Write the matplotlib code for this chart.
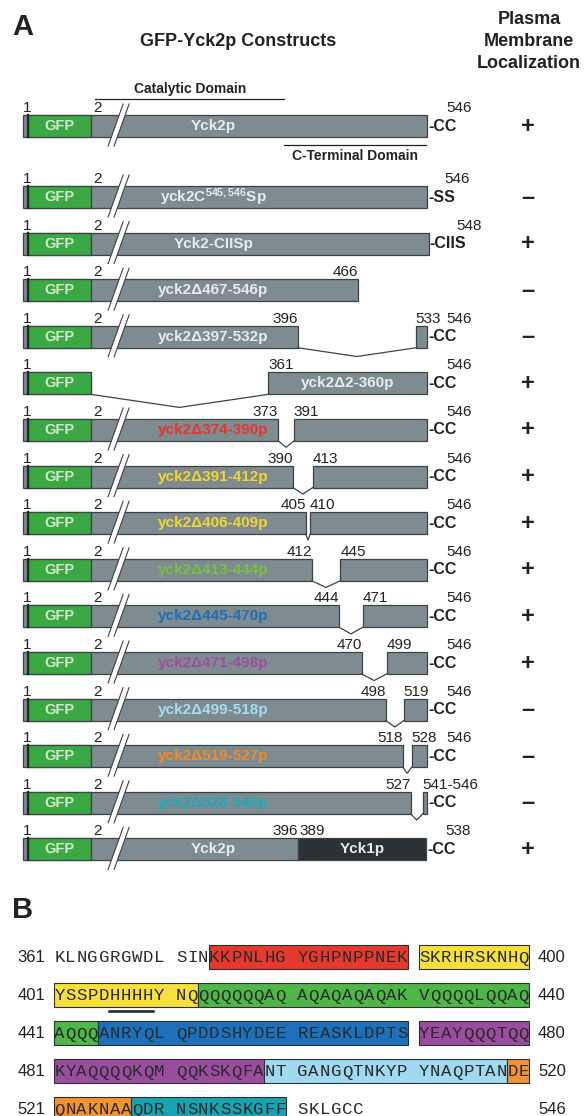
import numpy as np
import matplotlib
matplotlib.use("Agg")
import matplotlib.pyplot as plt
import matplotlib.transforms as mtransforms
from matplotlib.patches import Polygon, Rectangle

plt.rcParams['font.family'] = ['Liberation Sans', 'DejaVu Sans']
plt.rcParams['mathtext.fontset'] = 'custom'
plt.rcParams['mathtext.rm'] = 'Liberation Sans:bold'
plt.rcParams['mathtext.it'] = 'Liberation Sans:bold'
plt.rcParams['mathtext.bf'] = 'Liberation Sans:bold'

# ------------------------------------------------------------------ data
YCK2_LEN = 546
construct_names = ["Yck2p", r"yck2C$^{545,546}$Sp", "Yck2-CIISp", "yck2Δ467-546p",
                   "yck2Δ397-532p", "yck2Δ2-360p", "yck2Δ374-390p", "yck2Δ391-412p",
                   "yck2Δ406-409p", "yck2Δ413-444p", "yck2Δ445-470p", "yck2Δ471-498p",
                   "yck2Δ499-518p", "yck2Δ519-527p", "yck2Δ528-540p", "Yck2p"]
del_start = [0, 0, 0, 467, 397, 2, 374, 391, 406, 413, 445, 471, 499, 519, 528, 0]
del_end = [0, 0, 0, 546, 532, 360, 390, 412, 409, 444, 470, 498, 518, 527, 540, 0]
last_residue = [546, 546, 548, 466, 546, 546, 546, 546, 546, 546, 546, 546, 546, 546, 546, 538]
c_terminus = ["-CC", "-SS", "-CIIS", "", "-CC", "-CC", "-CC", "-CC", "-CC", "-CC",
              "-CC", "-CC", "-CC", "-CC", "-CC", "-CC"]
localization = ["+", "–", "+", "–", "–", "+", "+", "+", "+", "+", "+", "+", "–", "–", "–", "+"]
label_colors = ["#e6ecee", "#e6ecee", "#e6ecee", "#e6ecee", "#e6ecee", "#e6ecee",
                "#e8352b", "#f3d530", "#f3d530", "#78c043", "#1f6fb8", "#9b4fa0",
                "#a6ddf3", "#f08c26", "#1aaabb", "#e6ecee"]
# chimera (last row): Yck2p 2-396 fused to Yck1p 389-538
chimera_yck2 = (2, 396)
chimera_yck1 = (389, 538)
catalytic_domain = (10, 380)
c_terminal_domain = (380, 545)

# panel B: Yck2p residues 361-546
seq_row_start = [361, 401, 441, 481, 521]
seq_rows = ["KLNGGRGWDLSINKKPNLHGYGHPNPPNEKSKRHRSKNHQ",
            "YSSPDHHHHYNQQQQQQQAQAQAQAQAQAKVQQQQLQQAQ",
            "AQQQANRYQLQPDDSHYDEEREASKLDPTSYEAYQQQTQQ",
            "KYAQQQQKQMQQKSKQFANTGANGQTNKYPYNAQPTANDE",
            "QNAKNAAQDRNSNKSSKGFFSKLGCC"]
region_start = [374, 391, 413, 445, 471, 499, 519, 528]
region_end = [390, 412, 444, 470, 498, 518, 527, 540]
region_colors = ["#e5392d", "#f7df3c", "#4fb748", "#1d70bc", "#9a4d9f", "#9fd9f2",
                 "#f29331", "#17a3b1"]
underline_res = (406, 409)

# ------------------------------------------------------------------ style
W, H = 584, 1116
GREY = "#7e8b91"
EDGE = "#3b4347"
GFP_GREEN = "#3aa843"
YCK1_DARK = "#2b3134"
TXT = "#222222"

fig = plt.figure(figsize=(W / 100, H / 100), dpi=100)
fig.patch.set_facecolor("white")

A_BOTTOM = 880
axA = fig.add_axes([0, 1 - A_BOTTOM / H, 1, A_BOTTOM / H])
axA.set_axis_off()

# diagram scale (not to scale: N-terminal region compressed behind a break)
RK = np.array([1.0, 2.0, 361.0, 546.0])
PK = np.array([23.0, 91.0, 268.0, 427.0])
s_lo = (PK[1] - PK[0]) / (RK[1] - RK[0])
s_hi = (PK[-1] - PK[-2]) / (RK[-1] - RK[-2])


def fwd(r):
    r = np.asarray(r, float)
    return np.where(r < RK[0], PK[0] + (r - RK[0]) * s_lo,
                    np.where(r > RK[-1], PK[-1] + (r - RK[-1]) * s_hi, np.interp(r, RK, PK)))


def inv(p):
    p = np.asarray(p, float)
    return np.where(p < PK[0], RK[0] + (p - PK[0]) / s_lo,
                    np.where(p > PK[-1], RK[-1] + (p - PK[-1]) / s_hi, np.interp(p, PK, RK)))


axA.set_xscale('function', functions=(fwd, inv))
PITCH = 46.6
P = 1.0 / PITCH  # one pixel in row units
n = len(construct_names)
row_y = np.arange(n, dtype=float)
row_y[0] -= 71.0 / PITCH - 1.0
BAR_H = 22 * P
PT = 0.72  # points per pixel


def bar(y, a, b, color):
    axA.barh(y, b - a, left=a, height=BAR_H, color=color, edgecolor=EDGE, linewidth=0.9, zorder=2)


def mid(a, b):
    return float(inv((fwd(a) + fwd(b)) / 2))


def num(txt, x, y, ha, dx=0):
    axA.annotate(txt, xy=(x, y - 18 * P), xytext=(dx * PT, 0), textcoords='offset points',
                 ha=ha, va='center', fontsize=11, color=TXT)


def notch(y, a, b, depth_px):
    yb = y + BAR_H / 2
    axA.plot([a, mid(a, b), b], [yb, yb + depth_px * P, yb], color=EDGE, lw=0.9, zorder=3,
             solid_joinstyle='miter')


BREAK_RES = 57
blend = mtransforms.blended_transform_factory(axA.transAxes, axA.transData)

axA.set_xlim(float(inv(0)), float(inv(W)))
axA.set_ylim(1 + (A_BOTTOM - 197) * P, 1 - 197 * P)

for i in range(n):
    y = row_y[i]
    ds, de, last = del_start[i], del_end[i], last_residue[i]
    # GFP block
    bar(y, 1, 2, GREY)
    axA.barh(y, 2 - 1.08, left=1.08, height=BAR_H, color=GFP_GREEN, edgecolor=EDGE, linewidth=0.9, zorder=2)
    axA.plot([1.08, 1.08], [y - BAR_H / 2, y + BAR_H / 2], color="#20262a", lw=1.6, zorder=3)
    axA.text(mid(1.08, 2), y, "GFP", ha='center', va='center', fontsize=10.5,
             fontweight='bold', color="#d6e8cf", zorder=4)
    num("1", 1, y, 'left')
    if i == n - 1:  # chimera
        a, b = chimera_yck2
        bar(y, a, b, GREY)
        yck1_end = b + (chimera_yck1[1] - chimera_yck1[0])
        bar(y, b, yck1_end, YCK1_DARK)
        axA.text(250, y, "Yck2p", ha='center', va='center', fontsize=11, fontweight='bold', color=label_colors[i], zorder=4)
        axA.text(mid(b, yck1_end), y, "Yck1p", ha='center', va='center', fontsize=11, fontweight='bold', color="#e6ecee", zorder=4)
        num("2", 2, y, 'left', 2)
        num(str(chimera_yck2[1]), b, y, 'right')
        num(str(chimera_yck1[0]), b, y, 'left', 1)
        end_x = yck1_end
        segs = [(a, b)]
        end_lbl = str(chimera_yck1[1])
    else:
        if ds == 0:
            segs = [(2, last)]
        elif de >= YCK2_LEN:
            segs = [(2, ds - 1)]
        elif ds == 2:
            segs = [(de + 1, last)]
        else:
            segs = [(2, ds - 1), (de + 1, last)]
        for a, b in segs:
            bar(y, a, b, GREY)
        end_x = segs[-1][1]
        end_lbl = str(last)
        if ds == 2:
            notch(y, 2, de + 1, 13)
            num(str(de + 1), de + 1, y, 'left')
            lx = mid(de + 1, last)
        else:
            num("2", 2, y, 'left', 2)
            lx = 250
            if de >= YCK2_LEN:
                num(str(ds - 1), ds - 1, y, 'right')
                end_lbl = ""
            elif ds > 0:
                notch(y, ds - 1, de + 1, 6 + 0.02 * (de - ds))
                num(str(ds - 1), ds - 1, y, 'right')
                if last - (de + 1) < 10:
                    num(f"{de + 1}-{last}", de + 1, y, 'left')
                    end_lbl = ""
                else:
                    num(str(de + 1), de + 1, y, 'left')
        axA.text(lx, y, construct_names[i], ha='center', va='center', fontsize=11,
                 fontweight='bold', color=label_colors[i], zorder=4)
    # break marks
    if segs[0][0] == 2:
        cx, cy = axA.transData.transform((BREAK_RES, y))
        L1 = [(cx - 10, cy - 20), (cx + 5, cy + 22)]
        L2 = [(cx - 4, cy - 20), (cx + 11, cy + 22)]
        poly = Polygon([L1[0], L1[1], L2[1], L2[0]], closed=True, facecolor='white',
                       edgecolor='none', transform=mtransforms.IdentityTransform(), zorder=5)
        fig.add_artist(poly)
        for L in (L1, L2):
            fig.add_artist(plt.Line2D([L[0][0], L[1][0]], [L[0][1], L[1][1]], color="#404040",
                                      lw=0.8, transform=mtransforms.IdentityTransform(), zorder=6))
    # C terminus + end label
    if c_terminus[i]:
        t = axA.annotate(c_terminus[i], xy=(end_x, y), xytext=(1 * PT, 0), textcoords='offset points',
                         ha='left', va='center', fontsize=11.5, fontweight='bold', color=TXT)
        if end_lbl:
            axA.annotate(end_lbl, xy=(1, 0.5), xycoords=t, xytext=(15 * PT, 18 * PT),
                         textcoords='offset points', ha='right', va='center', fontsize=11, color=TXT)
    # localization
    axA.text(528 / W, y, localization[i], transform=blend, ha='center', va='center',
             fontsize=17, fontweight='bold', color=TXT)

# domains above/below wild-type
y0 = row_y[0]
axA.plot(catalytic_domain, [y0 - 27 * P] * 2, color=TXT, lw=0.9)
axA.text(mid(*catalytic_domain), y0 - 37 * P, "Catalytic Domain", ha='center', va='center',
         fontsize=10, fontweight='bold', color=TXT)
axA.plot(c_terminal_domain, [y0 + 19 * P] * 2, color=TXT, lw=0.9)
axA.text(mid(*c_terminal_domain), y0 + 30 * P, "C-Terminal Domain", ha='center', va='center',
         fontsize=10, fontweight='bold', color=TXT)


def ftext(x, y, s, **kw):
    fig.text(x / W, 1 - y / H, s, **kw)


ftext(12, 27, "A", fontsize=21, fontweight='bold', ha='left', va='center', color=TXT)
ftext(238, 42, "GFP-Yck2p Constructs", fontsize=13, fontweight='bold', ha='center', va='center', color=TXT)
for k, s in enumerate(["Plasma", "Membrane", "Localization"]):
    ftext(529, 20 + 22 * k, s, fontsize=13, fontweight='bold', ha='center', va='center', color=TXT)

# ------------------------------------------------------------------ panel B
B_TOP = 880
axB = fig.add_axes([0, 0, 1, (H - B_TOP) / H])
axB.set_axis_off()
CW = 11.05
X0 = 54
RP = 38.0
Y0 = 957
axB.set_xlim(-X0 / CW, (W - X0) / CW)
axB.set_ylim((H - Y0) / RP, (B_TOP - Y0) / RP)
ftext(12, 910, "B", fontsize=21, fontweight='bold', ha='left', va='center', color=TXT)


def pos(i):
    return i + i // 10


BOX_H = 24 / RP
for r, (start, s) in enumerate(zip(seq_row_start, seq_rows)):
    end = start + len(s) - 1
    for a, b, c in zip(region_start, region_end, region_colors):
        lo, hi = max(a, start), min(b, end)
        if lo > hi:
            continue
        p0 = pos(lo - start)
        p1 = pos(hi - start) + 1
        axB.add_patch(Rectangle((p0, r - BOX_H / 2), p1 - p0, BOX_H, facecolor=c,
                                edgecolor="#2e2e2e", linewidth=0.8, zorder=1))
    for k, ch in enumerate(s):
        axB.text(pos(k) + 0.5, r + 5.5 / RP, ch, ha='center', va='baseline', fontsize=12.5,
                 family='Liberation Mono', color="#2a2a2a", zorder=3)
    axB.text((45 - X0) / CW, r + 5.5 / RP, str(start), ha='right', va='baseline', fontsize=12, color=TXT)
    axB.text((538 - X0) / CW, r + 5.5 / RP, str(end), ha='left', va='baseline', fontsize=12, color=TXT)
    ua, ub = underline_res
    if start <= ua <= end:
        axB.plot([pos(ua - start), pos(ub - start) + 1], [r + 16 / RP] * 2, color="#1e1e1e", lw=1.8)

fig.savefig("out.png", dpi=100, facecolor="white")
